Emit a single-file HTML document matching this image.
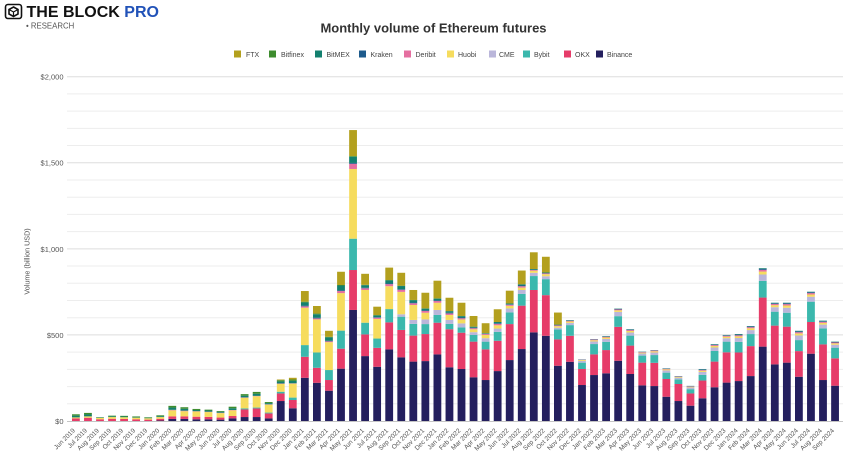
<!DOCTYPE html>
<html><head><meta charset="utf-8"><style>
html,body{margin:0;padding:0;background:#fff;}
svg{display:block;font-family:"Liberation Sans",Arial,sans-serif;}
</style></head><body>
<svg id="c" width="865" height="472" viewBox="0 0 865 472" xmlns="http://www.w3.org/2000/svg">
<rect width="865" height="472" fill="#fff"/>
<!-- logo -->
<g fill="none" stroke="#111" stroke-width="1.6">
<rect x="5.5" y="4.5" width="16" height="14" rx="2.5"/>
<path d="M13.5 7 L18 9.5 L18 14 L13.5 16.5 L9 14 L9 9.5 Z"/>
<path d="M9 9.5 L13.5 12 L18 9.5 M13.5 12 L13.5 16.5" stroke-width="1.2"/>
</g>
<text x="26.5" y="17" font-size="16" font-weight="bold" fill="#111">THE BLOCK <tspan fill="#2152b8">PRO</tspan></text>
<text x="26" y="28.5" font-size="7.8" fill="#555">• RESEARCH</text>
<!-- title -->
<text x="433.5" y="32.7" font-size="13" font-weight="bold" fill="#333" text-anchor="middle">Monthly volume of Ethereum futures</text>
<!-- legend -->
<g font-size="7" fill="#444">
<rect x="234" y="50.5" width="7" height="7" fill="#b3a01e"/><text x="246" y="56.8">FTX</text>
<rect x="269" y="50.5" width="7" height="7" fill="#3d8c2e"/><text x="281" y="56.8">Bitfinex</text>
<rect x="315" y="50.5" width="7" height="7" fill="#13806f"/><text x="326.5" y="56.8">BitMEX</text>
<rect x="359" y="50.5" width="7" height="7" fill="#1d5b8c"/><text x="370.5" y="56.8">Kraken</text>
<rect x="404" y="50.5" width="7" height="7" fill="#e56fa0"/><text x="415.5" y="56.8">Deribit</text>
<rect x="447" y="50.5" width="7" height="7" fill="#f6dc5e"/><text x="458" y="56.8">Huobi</text>
<rect x="489" y="50.5" width="7" height="7" fill="#bab6da"/><text x="499" y="56.8">CME</text>
<rect x="523" y="50.5" width="7" height="7" fill="#3bb8ad"/><text x="534" y="56.8">Bybit</text>
<rect x="564" y="50.5" width="7" height="7" fill="#e63c69"/><text x="575" y="56.8">OKX</text>
<rect x="596" y="50.5" width="7" height="7" fill="#241f5e"/><text x="607" y="56.8">Binance</text>
</g>
<!-- grid -->
<g id="grid"></g>
<g font-size="7.5" fill="#555" text-anchor="end">
<text x="63.5" y="424">$0</text>
<text x="63.5" y="337.9">$500</text>
<text x="63.5" y="251.8">$1,000</text>
<text x="63.5" y="165.7">$1,500</text>
<text x="63.5" y="79.6">$2,000</text>
</g>
<text transform="translate(29.5,261.5) rotate(-90)" font-size="7.2" fill="#555" text-anchor="middle">Volume (billion USD)</text>
<g id="bars"></g>
<line x1="67" y1="421.5" x2="843" y2="421.5" stroke="#c4c4c4" stroke-width="1"/>
<!-- x labels -->
<g font-size="6.5" fill="#555" text-anchor="end">
<text transform="translate(75.4,431) rotate(-45)">Jun 2019</text>
<text transform="translate(87.45,431) rotate(-45)">Jul 2019</text>
<text transform="translate(99.5,431) rotate(-45)">Aug 2019</text>
<text transform="translate(111.55,431) rotate(-45)">Sep 2019</text>
<text transform="translate(123.6,431) rotate(-45)">Oct 2019</text>
<text transform="translate(135.65,431) rotate(-45)">Nov 2019</text>
<text transform="translate(147.7,431) rotate(-45)">Dec 2019</text>
<text transform="translate(159.75,431) rotate(-45)">Jan 2020</text>
<text transform="translate(171.8,431) rotate(-45)">Feb 2020</text>
<text transform="translate(183.85,431) rotate(-45)">Mar 2020</text>
<text transform="translate(195.9,431) rotate(-45)">Apr 2020</text>
<text transform="translate(207.95,431) rotate(-45)">May 2020</text>
<text transform="translate(220,431) rotate(-45)">Jun 2020</text>
<text transform="translate(232.05,431) rotate(-45)">Jul 2020</text>
<text transform="translate(244.1,431) rotate(-45)">Aug 2020</text>
<text transform="translate(256.15,431) rotate(-45)">Sep 2020</text>
<text transform="translate(268.2,431) rotate(-45)">Oct 2020</text>
<text transform="translate(280.25,431) rotate(-45)">Nov 2020</text>
<text transform="translate(292.3,431) rotate(-45)">Dec 2020</text>
<text transform="translate(304.35,431) rotate(-45)">Jan 2021</text>
<text transform="translate(316.4,431) rotate(-45)">Feb 2021</text>
<text transform="translate(328.45,431) rotate(-45)">Mar 2021</text>
<text transform="translate(340.5,431) rotate(-45)">Apr 2021</text>
<text transform="translate(352.55,431) rotate(-45)">May 2021</text>
<text transform="translate(364.6,431) rotate(-45)">Jun 2021</text>
<text transform="translate(376.65,431) rotate(-45)">Jul 2021</text>
<text transform="translate(388.7,431) rotate(-45)">Aug 2021</text>
<text transform="translate(400.75,431) rotate(-45)">Sep 2021</text>
<text transform="translate(412.8,431) rotate(-45)">Oct 2021</text>
<text transform="translate(424.85,431) rotate(-45)">Nov 2021</text>
<text transform="translate(436.9,431) rotate(-45)">Dec 2021</text>
<text transform="translate(448.95,431) rotate(-45)">Jan 2022</text>
<text transform="translate(461,431) rotate(-45)">Feb 2022</text>
<text transform="translate(473.05,431) rotate(-45)">Mar 2022</text>
<text transform="translate(485.1,431) rotate(-45)">Apr 2022</text>
<text transform="translate(497.15,431) rotate(-45)">May 2022</text>
<text transform="translate(509.2,431) rotate(-45)">Jun 2022</text>
<text transform="translate(521.25,431) rotate(-45)">Jul 2022</text>
<text transform="translate(533.3,431) rotate(-45)">Aug 2022</text>
<text transform="translate(545.35,431) rotate(-45)">Sep 2022</text>
<text transform="translate(557.4,431) rotate(-45)">Oct 2022</text>
<text transform="translate(569.45,431) rotate(-45)">Nov 2022</text>
<text transform="translate(581.5,431) rotate(-45)">Dec 2022</text>
<text transform="translate(593.55,431) rotate(-45)">Jan 2023</text>
<text transform="translate(605.6,431) rotate(-45)">Feb 2023</text>
<text transform="translate(617.65,431) rotate(-45)">Mar 2023</text>
<text transform="translate(629.7,431) rotate(-45)">Apr 2023</text>
<text transform="translate(641.75,431) rotate(-45)">May 2023</text>
<text transform="translate(653.8,431) rotate(-45)">Jun 2023</text>
<text transform="translate(665.85,431) rotate(-45)">Jul 2023</text>
<text transform="translate(677.9,431) rotate(-45)">Aug 2023</text>
<text transform="translate(689.95,431) rotate(-45)">Sep 2023</text>
<text transform="translate(702,431) rotate(-45)">Oct 2023</text>
<text transform="translate(714.05,431) rotate(-45)">Nov 2023</text>
<text transform="translate(726.1,431) rotate(-45)">Dec 2023</text>
<text transform="translate(738.15,431) rotate(-45)">Jan 2024</text>
<text transform="translate(750.2,431) rotate(-45)">Feb 2024</text>
<text transform="translate(762.25,431) rotate(-45)">Mar 2024</text>
<text transform="translate(774.3,431) rotate(-45)">Apr 2024</text>
<text transform="translate(786.35,431) rotate(-45)">May 2024</text>
<text transform="translate(798.4,431) rotate(-45)">Jun 2024</text>
<text transform="translate(810.45,431) rotate(-45)">Jul 2024</text>
<text transform="translate(822.5,431) rotate(-45)">Aug 2024</text>
<text transform="translate(834.55,431) rotate(-45)">Sep 2024</text>
</g>
</svg>
<script>
(function(){
var NS="http://www.w3.org/2000/svg";
var base=421,k=344.3/2000;
var grid=document.getElementById("grid");
for(var v=100;v<=2000;v+=100){
  var y=base-v*k;
  var l=document.createElementNS(NS,"line");
  l.setAttribute("x1",67);l.setAttribute("x2",843);
  l.setAttribute("y1",y.toFixed(2));l.setAttribute("y2",y.toFixed(2));
  l.setAttribute("stroke",v%500===0?"#dedede":"#ededed");
  l.setAttribute("stroke-width","1");
  grid.appendChild(l);
}
// order: Binance, OKX, Bybit, CME, Huobi, Deribit, Kraken, BitMEX, Bitfinex, FTX
var col=["#241f5e","#e63c69","#3bb8ad","#bab6da","#f6dc5e","#e56fa0","#1d5b8c","#13806f","#3d8c2e","#b3a01e"];
var D=[
[0,15,0,0,6,0,0,10,8,0],
[0,19,0,0,8,0,0,11,9,0],
[0,10,0,0,8,0,0,2,2,0],
[0,13,0,0,10,0,0,4,4,0],
[0,12,0,0,10,0,0,4,4,0],
[0,10,0,0,10,0,0,4,3,0],
[0,8,0,0,8,0,0,3,3,0],
[3,10,0,0,10,0,0,5,5,0],
[12,15,0,0,35,3,0,13,10,0],
[12,15,0,0,30,3,0,11,9,0],
[10,15,0,0,30,2,0,7,6,0],
[10,14,0,0,28,2,0,7,5,0],
[8,12,0,0,26,2,0,6,4,0],
[15,14,0,0,33,2,0,10,9,0],
[23,44,6,0,62,2,0,10,9,0],
[23,50,5,0,66,2,0,12,11,0],
[15,29,5,0,46,2,0,7,6,0],
[116,44,10,0,46,2,0,12,7,4],
[74,48,14,0,81,2,0,14,8,10],
[251,122,68,0,217,8,4,19,4,62],
[222,87,89,0,192,6,4,20,4,44],
[176,62,58,0,162,5,3,20,3,35],
[304,116,105,0,218,12,4,28,3,77],
[645,232,182,0,405,30,5,36,4,151],
[377,126,68,0,190,10,3,15,2,64],
[315,110,54,0,114,7,3,10,2,49],
[416,157,77,0,133,12,4,18,2,72],
[370,159,77,14,130,12,4,18,2,75],
[345,151,68,23,87,10,4,14,1,58],
[348,157,58,27,39,10,4,10,1,91],
[387,184,45,29,42,10,4,10,1,103],
[312,221,31,23,29,9,4,9,1,77],
[302,211,31,23,23,7,4,8,1,77],
[254,207,39,16,17,6,3,6,0,62],
[238,178,45,20,19,5,2,3,0,58],
[290,176,52,19,19,8,4,7,0,74],
[354,209,68,23,15,6,3,5,0,74],
[418,252,68,23,14,8,4,7,0,80],
[515,246,81,19,12,4,2,4,0,97],
[495,236,93,17,12,4,2,4,0,91],
[321,153,58,10,9,4,2,3,0,70],
[344,151,62,13,8,4,2,2,0,0],
[209,93,37,10,5,2,1,1,0,0],
[267,120,60,15,7,4,2,1,0,0],
[277,135,48,17,8,4,2,2,0,0],
[350,197,62,25,9,5,3,2,0,0],
[273,165,58,18,9,5,3,2,0,0],
[207,132,41,12,5,3,2,1,0,0],
[203,135,45,15,7,4,2,1,0,0],
[141,103,37,13,6,3,2,1,0,0],
[116,99,27,10,4,2,2,1,0,0],
[89,71,25,10,4,2,2,1,0,0],
[132,103,33,17,7,4,3,2,0,0],
[196,149,62,20,9,5,3,2,0,0],
[223,176,62,20,9,5,3,2,0,0],
[232,166,62,22,10,6,4,3,0,0],
[261,174,70,23,11,6,4,2,0,0],
[432,285,97,37,17,10,6,4,0,0],
[329,225,81,26,12,7,4,3,0,0],
[339,209,81,29,13,8,5,3,0,0],
[257,149,64,27,12,7,5,3,0,0],
[391,184,118,29,13,8,5,3,0,0],
[238,207,93,22,10,6,4,3,0,0],
[205,159,62,17,8,5,3,2,0,0]
];
var g=document.getElementById("bars");
for(var i=0;i<D.length;i++){
  var x=72+12.05*i, w=7.8, cum=0;
  for(var s=0;s<10;s++){
    var v=D[i][s]; if(!v) continue;
    var y1=base-cum*k, y2=base-(cum+v)*k;
    var r=document.createElementNS(NS,"rect");
    r.setAttribute("x",x.toFixed(2));
    r.setAttribute("y",y2.toFixed(2));
    r.setAttribute("width",w);
    r.setAttribute("height",(y1-y2).toFixed(2));
    r.setAttribute("fill",col[s]);
    g.appendChild(r);
    cum+=v;
  }
}
})();
</script>
</body></html>
